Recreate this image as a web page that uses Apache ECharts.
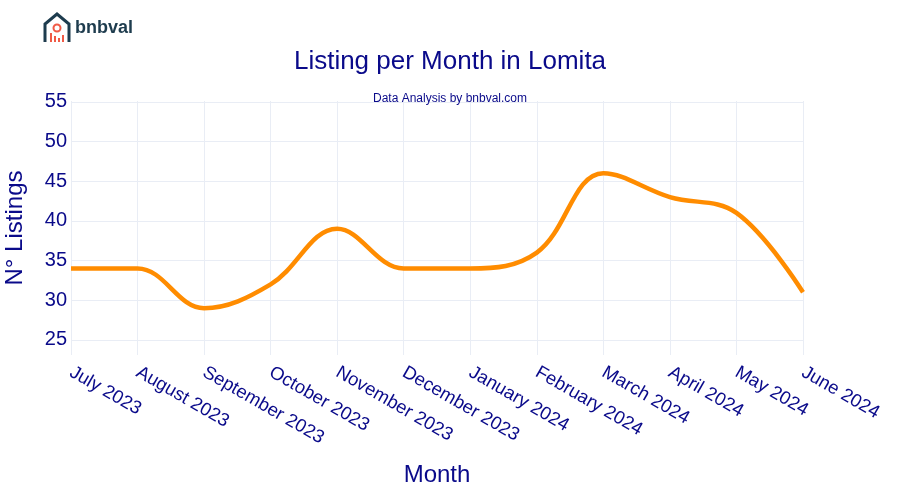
<!DOCTYPE html>
<html><head><meta charset="utf-8">
<script src="https://cdn.jsdelivr.net/npm/echarts@6/dist/echarts.min.js"></script>
<style>html,body{margin:0;padding:0;background:#fff}#c{width:900px;height:500px}</style>
</head><body><div id="c"></div>
<script>
const months = ["July 2023","August 2023","September 2023","October 2023","November 2023","December 2023","January 2024","February 2024","March 2024","April 2024","May 2024","June 2024"];
const listings = [34, 34, 29, 32, 39, 34, 34, 36, 46, 43, 41, 31];
const yTicks = [25, 30, 35, 40, 45, 50, 55];

const navy = '#0a0a8a';
const font = '"Liberation Sans", Arial, sans-serif';
const chart = echarts.init(document.getElementById('c'), null, {renderer: 'canvas'});
chart.setOption({
  backgroundColor: '#ffffff',
  animation: false,
  title: [
    {text: 'Listing per Month in Lomita', left: 'center', top: 44,
     textStyle: {color: navy, fontSize: 26, fontWeight: 'normal', fontFamily: font}},
    {text: 'Data Analysis by bnbval.com', left: 'center', top: 88,
     textStyle: {color: navy, fontSize: 12, fontWeight: 'normal', fontFamily: font}}
  ],
  grid: {left: 71, right: 97, top: 101, bottom: 145, containLabel: false, outerBoundsMode: 'none'},
  xAxis: {
    type: 'category', data: months, boundaryGap: false,
    axisLine: {show: false}, axisTick: {show: false},
    splitLine: {show: true, lineStyle: {color: '#e9edf5', width: 1}},
    axisLabel: {rotate: -30, color: navy, fontSize: 18.5, fontFamily: font, margin: 16, interval: 0},
    name: 'Month', nameLocation: 'middle', nameGap: 108,
    nameTextStyle: {color: navy, fontSize: 24, fontFamily: font}
  },
  yAxis: {
    type: 'value', min: 23.1, max: 55.1,
    axisLine: {show: false}, axisTick: {show: false, customValues: yTicks},
    splitLine: {show: true, lineStyle: {color: '#e9edf5', width: 1}},
    axisLabel: {customValues: yTicks, color: navy, fontSize: 20, fontFamily: font, margin: 4},
    name: 'N° Listings', nameLocation: 'middle', nameGap: 44, nameRotate: 90,
    nameTextStyle: {color: navy, fontSize: 24, fontFamily: font}
  },
  series: [{
    type: 'line', data: listings, smooth: 0.38, showSymbol: false,
    lineStyle: {color: '#ff8c00', width: 4.5}, itemStyle: {color: '#ff8c00'}
  }],
  graphic: [
    {type: 'polyline', shape: {points: [[45,42],[45,24],[57,14],[69,24],[69,42]]},
     style: {stroke: '#1e3c4e', lineWidth: 3, fill: null}},
    {type: 'circle', shape: {cx: 57, cy: 28, r: 3.5}, style: {stroke: '#f05a46', lineWidth: 2, fill: null}},
    {type: 'rect', shape: {x: 50, y: 33, width: 2, height: 9}, style: {fill: '#f05a46'}},
    {type: 'rect', shape: {x: 54, y: 36, width: 2, height: 6}, style: {fill: '#f05a46'}},
    {type: 'rect', shape: {x: 58, y: 38, width: 2, height: 4}, style: {fill: '#f05a46'}},
    {type: 'rect', shape: {x: 62, y: 35, width: 2, height: 7}, style: {fill: '#f05a46'}},
    {type: 'text', left: 75, top: 19,
     style: {text: 'bnbval', fill: '#1e3c4e', font: 'bold 18px "Liberation Sans", Arial, sans-serif'}}
  ]
});
</script></body></html>
